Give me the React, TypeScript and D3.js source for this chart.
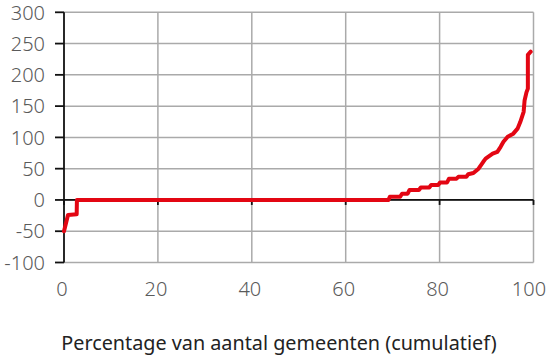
import React from "react";
import * as d3 from "d3";

const xTicks = [0, 20, 40, 60, 80, 100];
const yTicks = [-100, -50, 0, 50, 100, 150, 200, 250, 300];
const xValues = [0, 0.2, 0.85, 2.7, 2.75, 69.1, 69.4, 71.6, 72.0, 73.2, 73.6, 75.6, 76.0, 77.8, 78.2, 79.7, 80.1, 81.6, 82.0, 83.6, 84.0, 85.7, 86.1, 87.2, 88.3, 89.3, 89.8, 91.3, 92.3, 93.0, 93.6, 94.5, 95.7, 96.6, 97.2, 97.9, 98.1, 98.5, 98.8, 98.8, 99.4];
const yValues = [-50, -44, -24, -23, 0, 0, 5, 5, 10, 10, 16, 16, 20, 20, 24, 24, 28, 28, 34, 34, 37, 37, 41, 43, 50, 61, 66, 74, 77, 85, 93, 101, 106, 114, 125, 141, 159, 172, 178, 232, 237];
const xTitle = "Percentage van aantal gemeenten (cumulatief)";

export default function App() {
  const W = 548, H = 358;
  const x = d3.scaleLinear().domain([0, 100]).range([64, 533.5]);
  const y = d3.scaleLinear().domain([-100, 300]).range([262.5, 12.3]);
  const pts = xValues.map((v, i) => [v, yValues[i]] as [number, number]);
  const line = d3.line<[number, number]>().x(d => x(d[0])).y(d => y(d[1]));
  const font = "'Noto Sans', sans-serif";
  return (
    <svg width={W} height={H} style={{ position: "absolute", left: 0, top: 0, background: "#fff" }}>
      {yTicks.map(t => (
        <line key={"gy" + t} x1={x(0)} x2={x(100)} y1={y(t)} y2={y(t)} stroke="#aaa" strokeWidth={1.5} />
      ))}
      {xTicks.filter(t => t > 0).map(t => (
        <line key={"gx" + t} x1={x(t)} x2={x(t)} y1={y(-100)} y2={y(300)} stroke="#aaa" strokeWidth={1.5} />
      ))}
      <line x1={x(0)} x2={x(100)} y1={y(0)} y2={y(0)} stroke="#111" strokeWidth={1.8} />
      {xTicks.map(t => (
        <line key={"tx" + t} x1={x(t)} x2={x(t)} y1={y(0)} y2={y(0) + 5} stroke="#111" strokeWidth={1.8} />
      ))}
      <line x1={x(0)} x2={x(0)} y1={y(-100)} y2={y(300)} stroke="#111" strokeWidth={1.8} />
      {yTicks.map(t => (
        <line key={"ty" + t} x1={x(0) - 9} x2={x(0)} y1={y(t)} y2={y(t)} stroke="#111" strokeWidth={1.8} />
      ))}
      {yTicks.map(t => (
        <text key={"ly" + t} x={45} y={y(t)} dy="0.36em" textAnchor="end" fontFamily={font} fontSize={20} fontWeight={300} fill="#5a5a5a">{t}</text>
      ))}
      {xTicks.map(t => (
        <text key={"lx" + t} x={Math.min(x(t) - 2, 529)} y={296} textAnchor="middle" fontFamily={font} fontSize={20} fontWeight={300} fill="#5a5a5a">{t}</text>
      ))}
      <path d={line(pts) || ""} fill="none" stroke="#e30613" strokeWidth={4} strokeLinejoin="round" strokeLinecap="round" />
      <text x={279} y={350} textAnchor="middle" fontFamily={font} fontSize={19.8} fill="#222">{xTitle}</text>
    </svg>
  );
}
